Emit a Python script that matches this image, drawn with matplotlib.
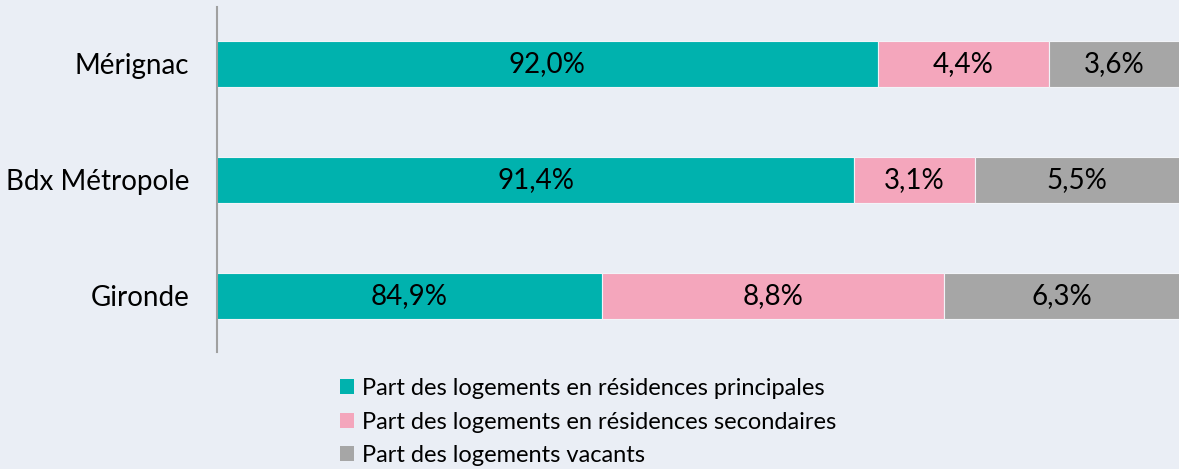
import matplotlib.pyplot as plt
from matplotlib.patches import Patch

plt.rcParams['font.family'] = ['Lato', 'DejaVu Sans']

territoires = ["Gironde", "Bdx Métropole", "Mérignac"]
principales = [84.9, 91.4, 92.0]
secondaires = [8.8, 3.1, 4.4]
vacants = [6.3, 5.5, 3.6]

noms_series = [
    "Part des logements en résidences principales",
    "Part des logements en résidences secondaires",
    "Part des logements vacants",
]
couleurs = ["#00B2AE", "#F4A6BC", "#A6A6A6"]
fond = "#EAEEF5"

xmin, xmax = 75, 99.75

fig = plt.figure(figsize=(11.79, 4.69), dpi=100)
fig.patch.set_facecolor(fond)
ax = fig.add_axes([217 / 1179, 1 - 352 / 469, 1 - 217 / 1179, 345 / 469])
ax.set_facecolor(fond)

y = list(range(len(territoires)))
gauche = [0.0] * len(territoires)
for valeurs, couleur in zip([principales, secondaires, vacants], couleurs):
    ax.barh(y, valeurs, left=gauche, height=0.4, color=couleur,
            edgecolor="#F2F4F8", linewidth=0.8)
    # étiquette centrée sur la partie visible du segment
    for i, v in enumerate(valeurs):
        debut = max(gauche[i], xmin)
        fin = min(gauche[i] + v, xmax)
        ax.text((debut + fin) / 2, y[i], f"{v:.1f}%".replace(".", ","),
                ha="center", va="center", fontsize=20, color="black")
    gauche = [g + v for g, v in zip(gauche, valeurs)]

ax.set_xlim(xmin, xmax)
ax.set_ylim(-0.485, 2.49)
ax.set_yticks(y)
ax.set_yticklabels(territoires, fontsize=20)
ax.tick_params(axis="y", length=0, pad=20)
ax.set_xticks([])
for cote in ["top", "right", "bottom"]:
    ax.spines[cote].set_visible(False)
ax.spines["left"].set_color("#A0A0A0")
ax.spines["left"].set_linewidth(1.5)

poignees = [Patch(facecolor=c, edgecolor="none") for c in couleurs]
fig.legend(poignees, noms_series, loc="upper left",
           bbox_to_anchor=(340 / 1179, 1 - 378 / 469), frameon=False,
           fontsize=17, handlelength=0.6, handleheight=0.6,
           handletextpad=0.35, labelspacing=0.53, borderpad=0, borderaxespad=0)

plt.savefig("out.png", dpi=100, facecolor=fond)
